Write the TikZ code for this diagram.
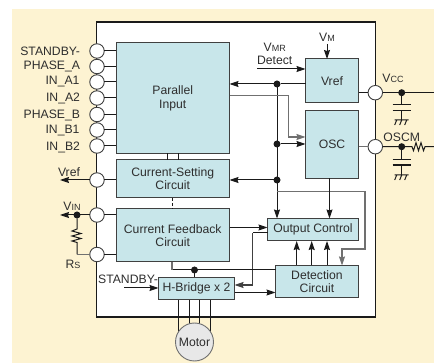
\documentclass[tikz,border=0pt]{standalone}
\usepackage{fontspec}
\setmainfont{Liberation Sans}
\usetikzlibrary{arrows.meta}
\definecolor{bgc}{HTML}{FDF3D2}
\definecolor{boxc}{HTML}{C8E6EA}
\definecolor{ink}{HTML}{1A1A1A}
\definecolor{txt}{HTML}{2E2E2E}
\definecolor{edge}{HTML}{404040}
\definecolor{lgray}{HTML}{707070}
\newcommand{\subsc}[1]{{\fontsize{9pt}{10pt}\selectfont #1}}
\tikzset{
  x=1pt,y=-1pt,
  every node/.style={inner sep=0pt,outer sep=0pt,text=txt,font=\fontsize{12.2pt}{13.2pt}\selectfont},
  blockbox/.style={draw=edge,line width=1pt,fill=boxc,align=center},
  pin/.style={circle,draw=edge,line width=0.9pt,fill=white,minimum size=14.5pt},
  dotn/.style={circle,fill=ink,minimum size=7pt},
  wire/.style={draw=ink,line width=1pt},
  graywire/.style={draw=lgray,line width=1.2pt},
  arr/.style={-{Stealth[length=9pt,width=6pt,inset=1pt]}},
  pinlabel/.style={anchor=east},
  plate/.style={draw=ink,line width=1.4pt},
  gnd/.pic={\draw[wire] (-7,0) -- (7,0) (-5,0) -- (-7,5) (0,0) -- (-2,5) (5,0) -- (3,5);}
}
\newcommand{\boxat}[6]{\node[blockbox,minimum width=#4pt-#2pt,minimum height=#5pt-#3pt] (#1) at ({(#2+#4)/2},{(#3+#5)/2}) {#6};}
\begin{document}
\begin{tikzpicture}
\useasboundingbox (0,0) rectangle (434,363);
\fill[bgc] (12,9) rectangle (434,363);
\node[draw=ink,line width=1.2pt,fill=white,minimum width=279pt,minimum height=295pt] (chip) at (236,169.5) {};

% blocks
\boxat{par}{116}{43}{229.5}{153.5}{Parallel\\Input}
\boxat{cset}{116}{160}{229.5}{198}{Current-Setting\\Circuit}
\boxat{cfb}{116}{209}{229.5}{262}{Current Feedback\\Circuit}
\boxat{hb}{158.5}{277.5}{234.5}{300}{H-Bridge x 2}
\boxat{vrefb}{305.5}{59}{358.5}{102.5}{Vref}
\boxat{osc}{305.5}{110.5}{358.5}{178.5}{OSC}
\boxat{oc}{267.5}{218.5}{358.5}{241}{Output Control}
\boxat{det}{275.5}{265.5}{358.5}{297.5}{Detection\\Circuit}

% pins
\foreach \n/\y in {pa/51,pb/66.5,pc/82,pd/98,pe/114.5,pf/130,pg/146,ph/180,pi/215,pj/254.5}{
  \node[pin] (\n) at (97,\y) {};
  \draw[wire] (\n.east) -- (\n.east -| par.west);
}
\node[pin] (pvcc) at (375.3,92.7) {};
\node[pin] (posc) at (375.3,146.7) {};

% left labels
\node[pinlabel] at (80,51) {STANDBY-};
\node[pinlabel] at (80,66.5) {PHASE\_A};
\node[pinlabel] at (79.5,82) {IN\_A1};
\node[pinlabel] at (80,98) {IN\_A2};
\node[pinlabel] at (80,115) {PHASE\_B};
\node[pinlabel] at (79.5,131) {IN\_B1};
\node[pinlabel] at (80,147) {IN\_B2};
\node (lvref) at (69,172) {Vref};
\node (lvin) at (72,206) {V\subsc{IN}};
\node (lrs) at (73,264.5) {R\subsc{S}};
\coordinate (vrefend) at (60,180);
\draw[wire,arr] (ph.west) -- (vrefend);

% VIN / Rs
\node[dotn] (dvin) at (77,215) {};
\coordinate (vinend) at (60,215);
\draw[wire,arr] (pi.west) -- (vinend);
\coordinate (rstop) at (77,229);
\coordinate (rsbot) at (77,254.5);
\draw[wire] (dvin) -- (rstop) -- ++(-5,2) -- ++(9,2.5) -- ++(-9,2.5) -- ++(9,2.5) -- ++(-9,2.5) -- ++(5,1.5) -- (rsbot);
\draw[graywire] (rsbot) -- (pj.west);

% inter-block left
\coordinate (pl1) at (167.5,153.5);
\coordinate (pl2) at (178,153.5);
\draw[wire] (pl1) -- (pl1 |- cset.north);
\draw[wire] (pl2) -- (pl2 |- cset.north);
\draw[wire,densely dashed] (cset.south) -- (cfb.north);

% bus
\node[dotn] (j1) at (277,84) {};
\node[dotn] (j2) at (277,144) {};
\node[dotn] (j3) at (277,180) {};
\coordinate (oct) at (277,218.5);
\draw[wire,arr] (j1) -- (oct);
\draw[wire] (j1) -- (j1 -| vrefb.west);
\draw[wire,arr] (j1) -- (j1 -| par.east);
\draw[wire,arr] (j2) -- (j2 -| osc.west);
\draw[wire,arr] (j3) -- (j3 -| cset.east);

% gray routes
\coordinate (g1) at (229.5,95.5);
\coordinate (g2) at (288.5,95.5);
\coordinate (g3) at (288.5,137);
\draw[graywire,arr] (g1) -- (g2) -- (g3) -- (g3 -| osc.west);
\coordinate (g4) at (277,191.5);
\coordinate (g5) at (365,191.5);
\coordinate (g6) at (365,249);
\coordinate (g7) at (342,249);
\draw[graywire,arr] (g4) -- (g5) -- (g6) -- (g7) -- (g7 |- det.north);

% VMR, VM
\node[align=center] (lvmr) at (274.7,53.5) {V\subsc{MR}\\Detect};
\coordinate (vmrs) at (257,69);
\draw[wire,arr] (vmrs) -- (vmrs -| vrefb.west);
\node (lvm) at (327,37) {V\subsc{M}};
\coordinate (vmt) at (327,44);
\draw[wire,arr] (vmt) -- (vmt |- vrefb.north);

% OSC -> Output Control
\coordinate (ot) at (329.5,178.5);
\draw[wire,arr] (ot) -- (ot |- oc.north);

% feedback -> output control
\coordinate (fo) at (229.5,227.5);
\draw[wire,arr] (fo) -- (fo -| oc.west);
% output control -> H-bridge
\coordinate (c1) at (267.5,233);
\coordinate (c2) at (252.5,233);
\coordinate (c3) at (252.5,285);
\draw[wire] (c1) -- (c2);
\draw[graywire,arr,draw=edge] (c2) -- (c3) -- (c3 -| hb.east);
% H-bridge -> detection
\coordinate (hd) at (234.5,292.5);
\draw[wire,arr] (hd) -- (hd -| det.west);
% detection line
\coordinate (d1) at (275.5,270);
\coordinate (d2) at (172,270);
\draw[wire] (d1) -- (d2);
\draw[graywire] (d2) -- (d2 |- cfb.south);
\node[dotn] (j4) at (194.5,270) {};
\draw[wire] (j4) -- (j4 |- hb.north);
% detection -> output control
\foreach \x in {296.7,311.7,327}{
  \coordinate (u) at (\x,265.5);
  \draw[wire,arr] (u) -- (u |- oc.south);
}

% Motor
\foreach \x in {178.5,189.5,199.5,210.5}{
  \coordinate (mt) at (\x,300);
  \draw[wire] (mt) -- (\x,335);
}
\node[circle,draw=lgray,line width=0.9pt,fill=black!9,minimum size=38pt] (motor) at (194.5,342) {Motor};

% right side
\draw[wire] (vrefb.east |- pvcc) -- (pvcc.west);
\draw[graywire] (osc.east |- posc) -- (posc.west);
\coordinate (vccend) at (434,92.7);
\draw[wire] (pvcc.east) -- (vccend);
\coordinate (oscend) at (434,146.7);
\node[dotn] (dvcc) at (401.7,92.7) {};
\node[dotn] (dosc) at (401.7,146.7) {};
\coordinate (rs1) at (412,146.7);
\draw[wire] (posc.east) -- (rs1) -- ++(1.5,4) -- ++(2.5,-8) -- ++(2.5,8) -- ++(2.5,-8) -- ++(2.5,8) -- ++(1.5,-4) -- (oscend);
% capacitors
\foreach \d/\a/\b/\g in {dvcc/104.7/110.7/120,dosc/159.3/165/175}{
  \draw[wire] (\d) -- (401.7,\a);
  \draw[plate] (392.5,\a) -- (410.5,\a);
  \draw[plate] (392.5,\b) -- (410.5,\b);
  \draw[wire] (401.7,\b) -- (401.7,\g);
  \pic at (401.7,\g) {gnd};
}
\node (lvcc) at (393,78) {V\subsc{CC}};
\node (loscm) at (401.7,137) {OSCM};
\node (lstby) at (128,279) {STANDBY-};
\coordinate (sb) at (124,288);
\draw[wire,arr] (sb) -- (sb -| hb.west);
\end{tikzpicture}
\end{document}
